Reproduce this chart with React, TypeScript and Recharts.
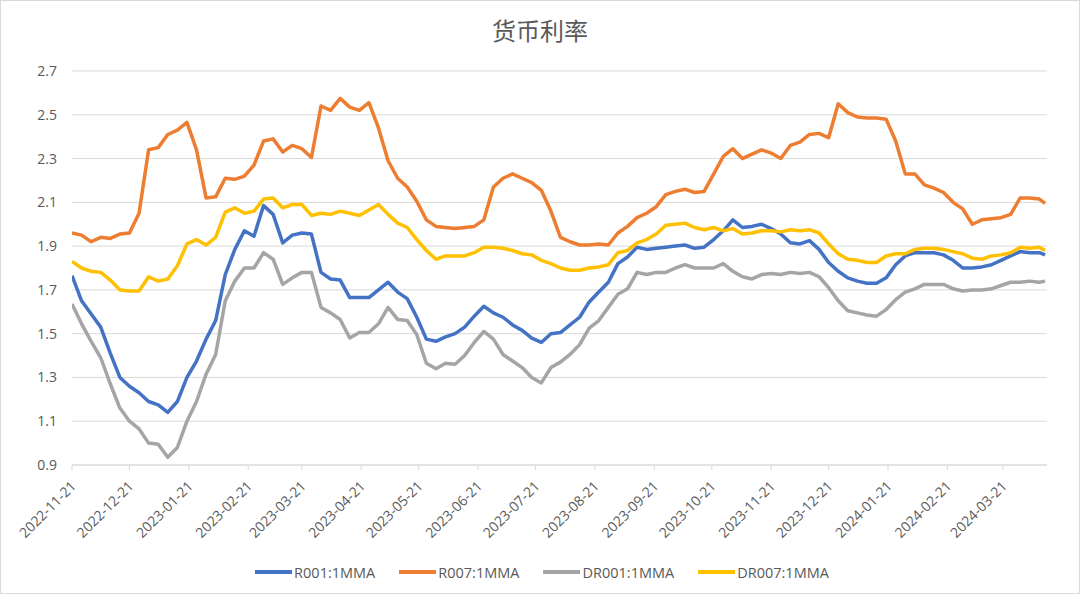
import React from 'react';
import { LineChart, Line, XAxis, YAxis, CartesianGrid, Legend } from 'recharts';

const dates = [
  '2022-11-21', '2022-11-26', '2022-12-01', '2022-12-06', '2022-12-11', '2022-12-16', '2022-12-21',
  '2022-12-26', '2022-12-31', '2023-01-05', '2023-01-10', '2023-01-15', '2023-01-20', '2023-01-25',
  '2023-01-30', '2023-02-04', '2023-02-09', '2023-02-14', '2023-02-19', '2023-02-24', '2023-03-01',
  '2023-03-06', '2023-03-11', '2023-03-16', '2023-03-21', '2023-03-26', '2023-03-31', '2023-04-05',
  '2023-04-10', '2023-04-15', '2023-04-20', '2023-04-25', '2023-04-30', '2023-05-05', '2023-05-10',
  '2023-05-15', '2023-05-20', '2023-05-25', '2023-05-30', '2023-06-04', '2023-06-09', '2023-06-14',
  '2023-06-19', '2023-06-24', '2023-06-29', '2023-07-04', '2023-07-09', '2023-07-14', '2023-07-19',
  '2023-07-24', '2023-07-29', '2023-08-03', '2023-08-08', '2023-08-13', '2023-08-18', '2023-08-23',
  '2023-08-28', '2023-09-02', '2023-09-07', '2023-09-12', '2023-09-17', '2023-09-22', '2023-09-27',
  '2023-10-02', '2023-10-07', '2023-10-12', '2023-10-17', '2023-10-22', '2023-10-27', '2023-11-01',
  '2023-11-06', '2023-11-11', '2023-11-16', '2023-11-21', '2023-11-26', '2023-12-01', '2023-12-06',
  '2023-12-11', '2023-12-16', '2023-12-21', '2023-12-26', '2023-12-31', '2024-01-05', '2024-01-10',
  '2024-01-15', '2024-01-20', '2024-01-25', '2024-01-30', '2024-02-04', '2024-02-09', '2024-02-14',
  '2024-02-19', '2024-02-24', '2024-02-29', '2024-03-05', '2024-03-10', '2024-03-15', '2024-03-20',
  '2024-03-25', '2024-03-30', '2024-04-04', '2024-04-09', '2024-04-12',
];

const r001 = [
  1.765, 1.65, 1.59, 1.53, 1.41, 1.30, 1.26, 1.23, 1.19, 1.175, 1.14, 1.19, 1.30, 1.375, 1.475, 1.56,
  1.77, 1.885, 1.97, 1.945, 2.085,
  2.045, 1.915, 1.95, 1.96, 1.955, 1.78, 1.75, 1.745, 1.665, 1.665, 1.665, 1.70, 1.735, 1.69, 1.66,
  1.575, 1.475, 1.465, 1.485, 1.50, 1.53,
  1.58, 1.625, 1.595, 1.575, 1.54, 1.515, 1.48, 1.46, 1.50, 1.505, 1.54, 1.575, 1.645, 1.69, 1.735,
  1.82, 1.85, 1.895, 1.885, 1.89,
  1.895, 1.90, 1.905, 1.89, 1.895, 1.93, 1.97, 2.02, 1.985, 1.99, 2.00, 1.98, 1.955, 1.915, 1.91,
  1.925, 1.885, 1.825, 1.785, 1.755,
  1.74, 1.73, 1.73, 1.755, 1.815, 1.855, 1.87, 1.87, 1.87, 1.86, 1.835, 1.80, 1.80, 1.805, 1.815,
  1.835, 1.855, 1.875, 1.87, 1.87, 1.86,
];

const r007 = [
  1.96, 1.95, 1.92, 1.94, 1.935, 1.955, 1.96, 2.05, 2.34, 2.35, 2.41, 2.43, 2.465, 2.34, 2.12, 2.125,
  2.21, 2.205, 2.22, 2.27, 2.38,
  2.39, 2.33, 2.36, 2.345, 2.305, 2.54, 2.52, 2.575, 2.535, 2.52, 2.555, 2.44, 2.29, 2.21, 2.17,
  2.105, 2.02, 1.99, 1.985, 1.98, 1.985,
  1.99, 2.02, 2.17, 2.21, 2.23, 2.21, 2.19, 2.155, 2.06, 1.94, 1.92, 1.905, 1.905, 1.91, 1.905,
  1.96, 1.99, 2.03, 2.05, 2.08,
  2.135, 2.15, 2.16, 2.145, 2.15, 2.23, 2.31, 2.345, 2.30, 2.32, 2.34, 2.325, 2.30, 2.36, 2.375,
  2.41, 2.415, 2.395, 2.55, 2.51,
  2.49, 2.485, 2.485, 2.48, 2.38, 2.23, 2.23, 2.18, 2.165, 2.145, 2.10, 2.07, 2.0, 2.02, 2.025,
  2.03, 2.045, 2.12, 2.12, 2.115, 2.095,
];

const dr001 = [
  1.635, 1.545, 1.465, 1.39, 1.27, 1.16, 1.10, 1.065, 1.00, 0.995, 0.935, 0.98, 1.10, 1.19, 1.315,
  1.405, 1.65, 1.74, 1.80, 1.80, 1.87,
  1.84, 1.725, 1.755, 1.78, 1.78, 1.62, 1.595, 1.565, 1.48, 1.505, 1.505, 1.545, 1.62, 1.565, 1.56,
  1.495, 1.365, 1.34, 1.365, 1.36, 1.40,
  1.46, 1.51, 1.475, 1.405, 1.375, 1.345, 1.30, 1.275, 1.345, 1.37, 1.405, 1.45, 1.525, 1.56, 1.62,
  1.68, 1.705, 1.78, 1.77, 1.78,
  1.78, 1.80, 1.815, 1.80, 1.80, 1.80, 1.82, 1.785, 1.76, 1.75, 1.77, 1.775, 1.77, 1.78, 1.775,
  1.78, 1.76, 1.71, 1.65, 1.605,
  1.595, 1.585, 1.58, 1.61, 1.655, 1.69, 1.705, 1.725, 1.725, 1.725, 1.705, 1.695, 1.70, 1.70, 1.705,
  1.72, 1.735, 1.735, 1.74, 1.735, 1.74,
];

const dr007 = [
  1.83, 1.80, 1.785, 1.78, 1.745, 1.70, 1.695, 1.695, 1.76, 1.74, 1.75, 1.81, 1.91, 1.93, 1.905,
  1.94, 2.055, 2.075, 2.05, 2.06, 2.115,
  2.12, 2.075, 2.09, 2.09, 2.04, 2.05, 2.045, 2.06, 2.05, 2.04, 2.065, 2.09, 2.045, 2.005, 1.985,
  1.93, 1.88, 1.84, 1.855, 1.855, 1.855,
  1.87, 1.895, 1.895, 1.89, 1.88, 1.865, 1.86, 1.835, 1.82, 1.80, 1.79, 1.79, 1.80, 1.805, 1.815,
  1.87, 1.88, 1.915, 1.93, 1.955,
  1.995, 2.0, 2.005, 1.985, 1.975, 1.985, 1.97, 1.98, 1.955, 1.96, 1.97, 1.97, 1.965, 1.975, 1.97,
  1.975, 1.96, 1.91, 1.865, 1.84,
  1.835, 1.825, 1.825, 1.855, 1.865, 1.865, 1.885, 1.89, 1.89, 1.885, 1.875, 1.865, 1.845, 1.84,
  1.855, 1.86, 1.87, 1.895, 1.89, 1.895, 1.88,
];

const xTicks = [
  '2022-11-21', '2022-12-21', '2023-01-21', '2023-02-21', '2023-03-21', '2023-04-21', '2023-05-21',
  '2023-06-21', '2023-07-21', '2023-08-21', '2023-09-21', '2023-10-21', '2023-11-21', '2023-12-21',
  '2024-01-21', '2024-02-21', '2024-03-21',
];
const xEnd = '2024-04-13';
const yTicks = [0.9, 1.1, 1.3, 1.5, 1.7, 1.9, 2.1, 2.3, 2.5, 2.7];

const series = [
  { key: 'r001', name: 'R001:1MMA', color: '#4472C4' },
  { key: 'r007', name: 'R007:1MMA', color: '#ED7D31' },
  { key: 'dr001', name: 'DR001:1MMA', color: '#A5A5A5' },
  { key: 'dr007', name: 'DR007:1MMA', color: '#FFC000' },
];

const toTime = (d: string) => {
  const [y, m, day] = d.split('-').map(Number);
  return Date.UTC(y, m - 1, day);
};
const fmtDate = (t: number) => new Date(t).toISOString().slice(0, 10);

const chartData = dates.map((d, i) => ({
  t: toTime(d),
  r001: r001[i],
  r007: r007[i],
  dr001: dr001[i],
  dr007: dr007[i],
}));

const TEXT = '#595959';
const GRID = '#D9D9D9';
const FONT = '"Open Sans", "Noto Sans CJK SC", sans-serif';

// rotated date labels, anchored at their end just below the tick
const DateTick = (props: any) => {
  const { x, y, payload } = props;
  const ax = x + 5;
  const ay = y + 15;
  return (
    <text
      x={ax}
      y={ay}
      textAnchor="end"
      fill={TEXT}
      fontSize={14}
      fontFamily={FONT}
      transform={`rotate(-45, ${ax}, ${ay})`}
    >
      {fmtDate(payload.value)}
    </text>
  );
};

const LegendContent = () => (
  <div style={{ display: 'flex', justifyContent: 'center', alignItems: 'center', height: 44, paddingLeft: 4 }}>
    {series.map((s) => (
      <div key={s.key} style={{ display: 'flex', alignItems: 'center', margin: '0 12px' }}>
        <span style={{ display: 'inline-block', width: 37, height: 4, background: s.color, marginRight: 2 }} />
        <span style={{ fontSize: 14.5, color: TEXT, fontFamily: FONT }}>{s.name}</span>
      </div>
    ))}
  </div>
);

export default function App() {
  return (
    <div style={{ position: 'absolute', left: 0, top: 0, width: 1080, height: 594, background: '#fff' }}>
      <div
        style={{
          position: 'absolute',
          left: 0,
          top: 12,
          width: 1080,
          textAlign: 'center',
          fontSize: 24,
          lineHeight: '36px',
          color: TEXT,
          fontFamily: '"Noto Sans CJK SC", sans-serif',
        }}
      >
        货币利率
      </div>
      <LineChart
        width={1080}
        height={594}
        data={chartData}
        margin={{ top: 71, right: 33, left: 0, bottom: 0 }}
        style={{ position: 'absolute', left: 0, top: 0 }}
      >
        <CartesianGrid vertical={false} stroke={GRID} strokeWidth={1} />
        <XAxis
          dataKey="t"
          type="number"
          scale="time"
          domain={[toTime(dates[0]), toTime(xEnd)]}
          ticks={xTicks.map(toTime)}
          tick={<DateTick />}
          tickSize={5}
          tickMargin={2}
          stroke={GRID}
          height={85}
          interval={0}
          allowDataOverflow
        />
        <YAxis
          type="number"
          domain={[0.9, 2.7]}
          ticks={yTicks}
          tickFormatter={(v: number) => v.toFixed(1)}
          axisLine={false}
          tickLine={false}
          tickSize={0}
          tickMargin={15}
          width={72}
          tick={{ fill: TEXT, fontSize: 14, fontFamily: FONT }}
        />
        <Legend
          verticalAlign="bottom"
          height={44}
          wrapperStyle={{ left: 0, width: 1080 }}
          content={<LegendContent />}
        />
        {series.map((s) => (
          <Line
            key={s.key}
            type="linear"
            dataKey={s.key}
            name={s.name}
            stroke={s.color}
            strokeWidth={3.5}
            dot={false}
            strokeLinejoin="round"
            isAnimationActive={false}
          />
        ))}
      </LineChart>
      <div
        style={{
          position: 'absolute',
          left: 0,
          top: 0,
          width: 1080,
          height: 594,
          boxSizing: 'border-box',
          border: `1px solid ${GRID}`,
          pointerEvents: 'none',
        }}
      />
    </div>
  );
}
